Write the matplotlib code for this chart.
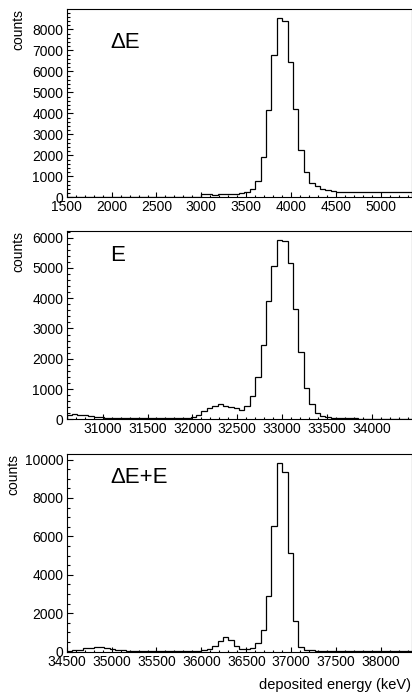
import numpy as np
import matplotlib
matplotlib.use("Agg")
import matplotlib.pyplot as plt
from matplotlib.ticker import MultipleLocator

plt.rcParams['font.family'] = ['Liberation Sans', 'DejaVu Sans']

# ---- data (60 keV bins) ----
de_start = 1500
de_counts = [0]*25 + [160, 145, 125, 140, 145, 160, 175, 205, 240, 380, 780, 1900,
             4150, 6800, 8540, 8400, 6460, 4190, 2240, 1220, 690, 520, 390, 335,
             295, 255, 250, 245, 245, 240, 240, 235, 235, 230, 255, 250, 240, 235, 230]

e_start = 30600
e_counts = [150, 165, 155, 135, 110, 90, 65, 45, 40, 35, 35, 30, 35, 30, 40, 45, 40,
            35, 35, 40, 35, 45, 55, 80, 150, 280, 360, 450, 500, 450, 420, 370, 310,
            450, 770, 1410, 2450, 3900, 5080, 5925, 5890, 5150, 3640, 2230, 1040, 500,
            220, 110, 70, 50, 40, 35, 30, 30, 25, 25, 25, 20, 20, 20, 20, 15, 15, 15]

sum_start = 34500
sum_counts = [35, 70, 100, 170, 210, 240, 230, 200, 150, 100, 70,
              55, 50, 50, 45, 50, 55, 50, 45, 50, 45, 40, 45, 50, 55,
              70, 120, 290, 560, 790, 610, 300, 160, 130, 210, 460, 1150, 2880,
              6560, 9800, 9330, 5130, 1600, 260, 110, 70,
              50, 45, 40, 40, 35, 35, 30, 30, 30, 25, 25, 25, 20, 20, 20, 20, 15, 15]

bin_width = 60
labels = ["\u0394E", "E", "\u0394E+E"]
ymaxs = [8970, 6220, 10290]
ymajor = [1000, 1000, 2000]
yminor = [200, 200, 500]

W, H = 412, 695
fig = plt.figure(figsize=(W/100, H/100), dpi=100)

# axes geometry in pixels: (top, bottom)
geo = [(9, 197.3), (231, 419.3), (454, 651.7)]
left_px, right_px = 66.7, 411.5
label_y_px = [42, 255.3, 477.5]   # panel-label centres
ylabel_x_px = [25.5, 25.5, 20.5]

datasets = [(de_start, de_counts), (e_start, e_counts), (sum_start, sum_counts)]

for i, ((start, counts), (top, bot)) in enumerate(zip(datasets, geo)):
    hgt = bot - top
    wid = right_px - left_px
    ax = fig.add_axes([left_px/W, 1 - bot/H, wid/W, hgt/H])
    counts = np.array(counts, dtype=float)
    edges = start + bin_width*np.arange(len(counts)+1)
    ax.stairs(counts, edges, color='black', lw=0.9, baseline=0)
    ax.set_xlim(edges[0], edges[-1])
    ax.set_ylim(0, ymaxs[i])
    ax.xaxis.set_major_locator(MultipleLocator(500))
    ax.xaxis.set_minor_locator(MultipleLocator(100))
    ax.yaxis.set_major_locator(MultipleLocator(ymajor[i]))
    ax.yaxis.set_minor_locator(MultipleLocator(yminor[i]))
    ax.tick_params(axis='both', which='both', direction='in', top=False, right=False,
                   labelsize=10, width=0.8, colors='black')
    ax.tick_params(axis='x', which='major', length=3.6, pad=2.2)
    ax.tick_params(axis='x', which='minor', length=1.8)
    ax.tick_params(axis='y', which='major', length=4.3, pad=2.5)
    ax.tick_params(axis='y', which='minor', length=2.2)
    for sp in ax.spines.values():
        sp.set_linewidth(0.8)
    ax.set_ylabel("counts", fontsize=10, loc='top')
    ax.yaxis.set_label_coords((ylabel_x_px[i] - left_px)/wid, 1.0)
    ax.text((110 - left_px)/wid, (bot - label_y_px[i])/hgt, labels[i],
            transform=ax.transAxes, fontsize=16, ha='left', va='center')
    if i == 2:
        ax.set_xlabel("deposited energy (keV)", fontsize=10.5, loc='right')
        ax.xaxis.set_label_coords((411 - left_px)/wid, (bot - 685)/hgt)
        ax.xaxis.label.set_va('center')

fig.savefig("out.png", dpi=100)
